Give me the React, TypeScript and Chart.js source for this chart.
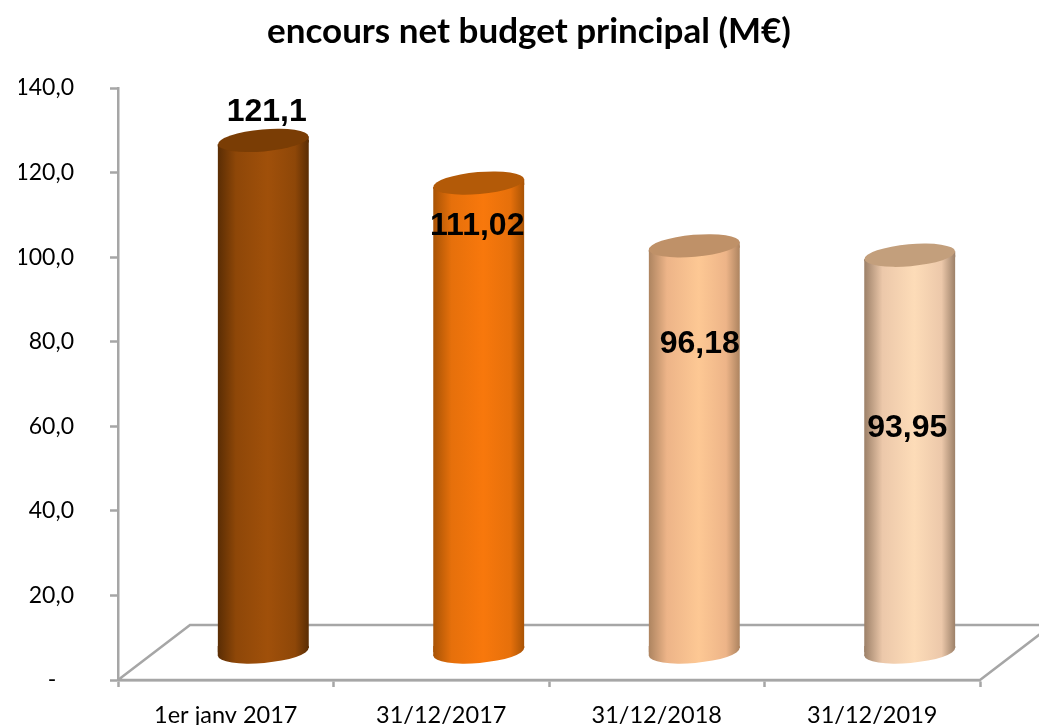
import React, { useEffect, useRef } from "react";
import { Chart, registerables } from "chart.js";

Chart.register(...registerables);

const categories = ["1er janv 2017", "31/12/2017", "31/12/2018", "31/12/2019"];
const encours = [121.1, 111.02, 96.18, 93.95];
const yTickValues = [0, 20, 40, 60, 80, 100, 120, 140];
const titleText = "encours net budget principal (M€)";

const palettes = [
  { edge: "#5a2d04", side: "#8e4708", mid: "#a0500a", cap: "#7a3d05" },
  { edge: "#a85305", side: "#e6700b", mid: "#f8780c", cap: "#b35a08" },
  { edge: "#ad8460", side: "#edb488", mid: "#fdc894", cap: "#bf9168" },
  { edge: "#9c8068", side: "#ecc8aa", mid: "#fddcb8", cap: "#c39f7c" },
];

const AXIS = "#a6a6a6";
const AXIS_W = 2.5;
const BAR_W = 91;
const DEPTH_X = 72;
const DEPTH_Y = 55;
const BAR_SHIFT_X = 37.5;
const SKEW = 4; // half of the rise of an ellipse between its left and right tips
const ROT = Math.atan2(-2 * SKEW, BAR_W);
const RY = 11;
const LABEL_SHIFT = [
  [41, -55.5],
  [36, 16],
  [43, 70.5],
  [35, 145],
];

function bodyGradient(c: CanvasRenderingContext2D, x: number, i: number) {
  const p = palettes[i];
  const g = c.createLinearGradient(x - BAR_W / 2, 0, x + BAR_W / 2, 0);
  g.addColorStop(0, p.edge);
  g.addColorStop(0.2, p.side);
  g.addColorStop(0.55, p.mid);
  g.addColorStop(0.85, p.side);
  g.addColorStop(1, p.edge);
  return g;
}

const floorPlugin = {
  id: "floor3d",
  beforeDatasetsDraw(chart: any) {
    const { ctx, scales } = chart;
    const y0 = scales.y.getPixelForValue(0);
    const l = scales.x.left;
    const r = scales.x.right;
    ctx.save();
    ctx.strokeStyle = AXIS;
    ctx.lineWidth = AXIS_W;
    ctx.beginPath();
    ctx.moveTo(l, y0);
    ctx.lineTo(l + DEPTH_X, y0 - DEPTH_Y);
    ctx.lineTo(r + DEPTH_X, y0 - DEPTH_Y);
    ctx.lineTo(r, y0);
    ctx.lineTo(l, y0);
    ctx.stroke();
    ctx.restore();
  },
};

const cylinderPlugin = {
  id: "cylinder",
  beforeDatasetDraw(chart: any, args: any) {
    const { ctx } = chart;
    const bars = args.meta.data;
    ctx.save();
    ctx.translate(BAR_SHIFT_X, -DEPTH_Y / 2);
    bars.forEach((b: any, i: number) => {
      const l = b.x - BAR_W / 2;
      const r = b.x + BAR_W / 2;
      ctx.fillStyle = bodyGradient(ctx, b.x, i);
      ctx.beginPath();
      ctx.ellipse(b.x, b.base, BAR_W / 2, RY, ROT, 0, Math.PI * 2);
      ctx.fill();
      ctx.beginPath();
      ctx.moveTo(l, b.base - 6);
      ctx.lineTo(r, b.base - 6);
      ctx.lineTo(r, b.base - SKEW);
      ctx.lineTo(l, b.base + SKEW);
      ctx.closePath();
      ctx.fill();
      ctx.beginPath();
      ctx.moveTo(l, b.y + SKEW);
      ctx.lineTo(r, b.y - SKEW);
      ctx.lineTo(r, b.y + 2);
      ctx.lineTo(l, b.y + 6);
      ctx.closePath();
      ctx.fill();
    });
    ctx.beginPath();
    bars.forEach((b: any) => {
      ctx.moveTo(b.x - BAR_W / 2, b.y + SKEW);
      ctx.lineTo(b.x + BAR_W / 2, b.y - SKEW);
      ctx.lineTo(b.x + BAR_W / 2, b.base - SKEW);
      ctx.lineTo(b.x - BAR_W / 2, b.base + SKEW);
      ctx.closePath();
    });
    ctx.clip();
  },
  afterDatasetDraw(chart: any, args: any) {
    const { ctx } = chart;
    const bars = args.meta.data;
    ctx.restore();
    ctx.save();
    ctx.translate(BAR_SHIFT_X, -DEPTH_Y / 2);
    bars.forEach((b: any, i: number) => {
      ctx.fillStyle = palettes[i].cap;
      ctx.beginPath();
      ctx.ellipse(b.x, b.y, BAR_W / 2, RY, ROT, 0, Math.PI * 2);
      ctx.fill();
    });
    ctx.restore();
  },
  afterDatasetsDraw(chart: any) {
    const { ctx } = chart;
    const bars = chart.getDatasetMeta(0).data;
    ctx.save();
    ctx.font = "bold 32px 'Liberation Sans', Arial, sans-serif";
    ctx.fillStyle = "#000";
    ctx.textAlign = "center";
    ctx.textBaseline = "middle";
    bars.forEach((b: any, i: number) => {
      const text = String(encours[i]).replace(".", ",");
      ctx.fillText(text, b.x + LABEL_SHIFT[i][0], b.y + LABEL_SHIFT[i][1]);
    });
    ctx.restore();
  },
};

export default function App() {
  const ref = useRef<HTMLCanvasElement | null>(null);

  useEffect(() => {
    const canvas = ref.current;
    if (!canvas) return;
    const chart = new Chart(canvas, {
      type: "bar",
      data: {
        labels: categories,
        datasets: [
          {
            label: "encours net",
            data: encours,
            barThickness: BAR_W,
            borderWidth: 0,
            backgroundColor: (c: any) => {
              const sc = c.chart.scales?.x;
              if (!sc || !c.chart.chartArea) return palettes[c.dataIndex ?? 0].mid;
              return bodyGradient(c.chart.ctx, sc.getPixelForValue(c.dataIndex), c.dataIndex);
            },
          },
        ],
      },
      options: {
        responsive: false,
        animation: false,
        devicePixelRatio: 1,
        layout: { autoPadding: false, padding: { left: 19, right: 0, top: 0, bottom: 0 } },
        plugins: {
          legend: { display: false },
          tooltip: { enabled: false },
          title: {
            display: true,
            text: titleText,
            color: "#000",
            font: { family: "Lato", size: 35, weight: "bold" },
            padding: { top: 11, bottom: 35 },
            fullSize: true,
          },
        },
        scales: {
          x: {
            grid: {
              offset: true,
              drawOnChartArea: false,
              drawTicks: true,
              tickLength: 7,
              tickColor: AXIS,
              tickWidth: AXIS_W,
            },
            border: { color: AXIS, width: AXIS_W },
            ticks: {
              color: "#000",
              font: { family: "Lato", size: 23.5 },
              padding: 14,
              maxRotation: 0,
              autoSkip: false,
            },
            afterFit: (s: any) => {
              s.height = 45;
            },
          },
          y: {
            min: 0,
            max: 140,
            afterBuildTicks: (s: any) => {
              s.ticks = yTickValues.map((value) => ({ value }));
            },
            grid: {
              drawOnChartArea: false,
              drawTicks: true,
              tickLength: 8,
              tickColor: AXIS,
              tickWidth: AXIS_W,
            },
            border: { color: AXIS, width: AXIS_W },
            ticks: {
              color: "#000",
              font: { family: "Lato", size: 23 },
              padding: 36,
              callback: (v: any) =>
                Number(v) === 0 ? "-   " : Number(v).toFixed(1).replace(".", ","),
            },
            afterFit: (s: any) => {
              s.width = 99;
              s.paddingTop = 0;
              s.paddingBottom = 0;
            },
          },
          yRight: {
            position: "right",
            display: true,
            grid: { display: false, drawTicks: false },
            border: { display: false },
            ticks: { display: false },
            afterFit: (s: any) => {
              s.width = 59;
              s.paddingTop = 0;
              s.paddingBottom = 0;
            },
          },
        },
      },
      plugins: [floorPlugin, cylinderPlugin],
    } as any);
    return () => chart.destroy();
  }, []);

  return (
    <div style={{ position: "fixed", left: 0, top: 0, width: 1039, height: 725, background: "#fff" }}>
      <canvas ref={ref} width={1039} height={725} style={{ display: "block" }} />
    </div>
  );
}
